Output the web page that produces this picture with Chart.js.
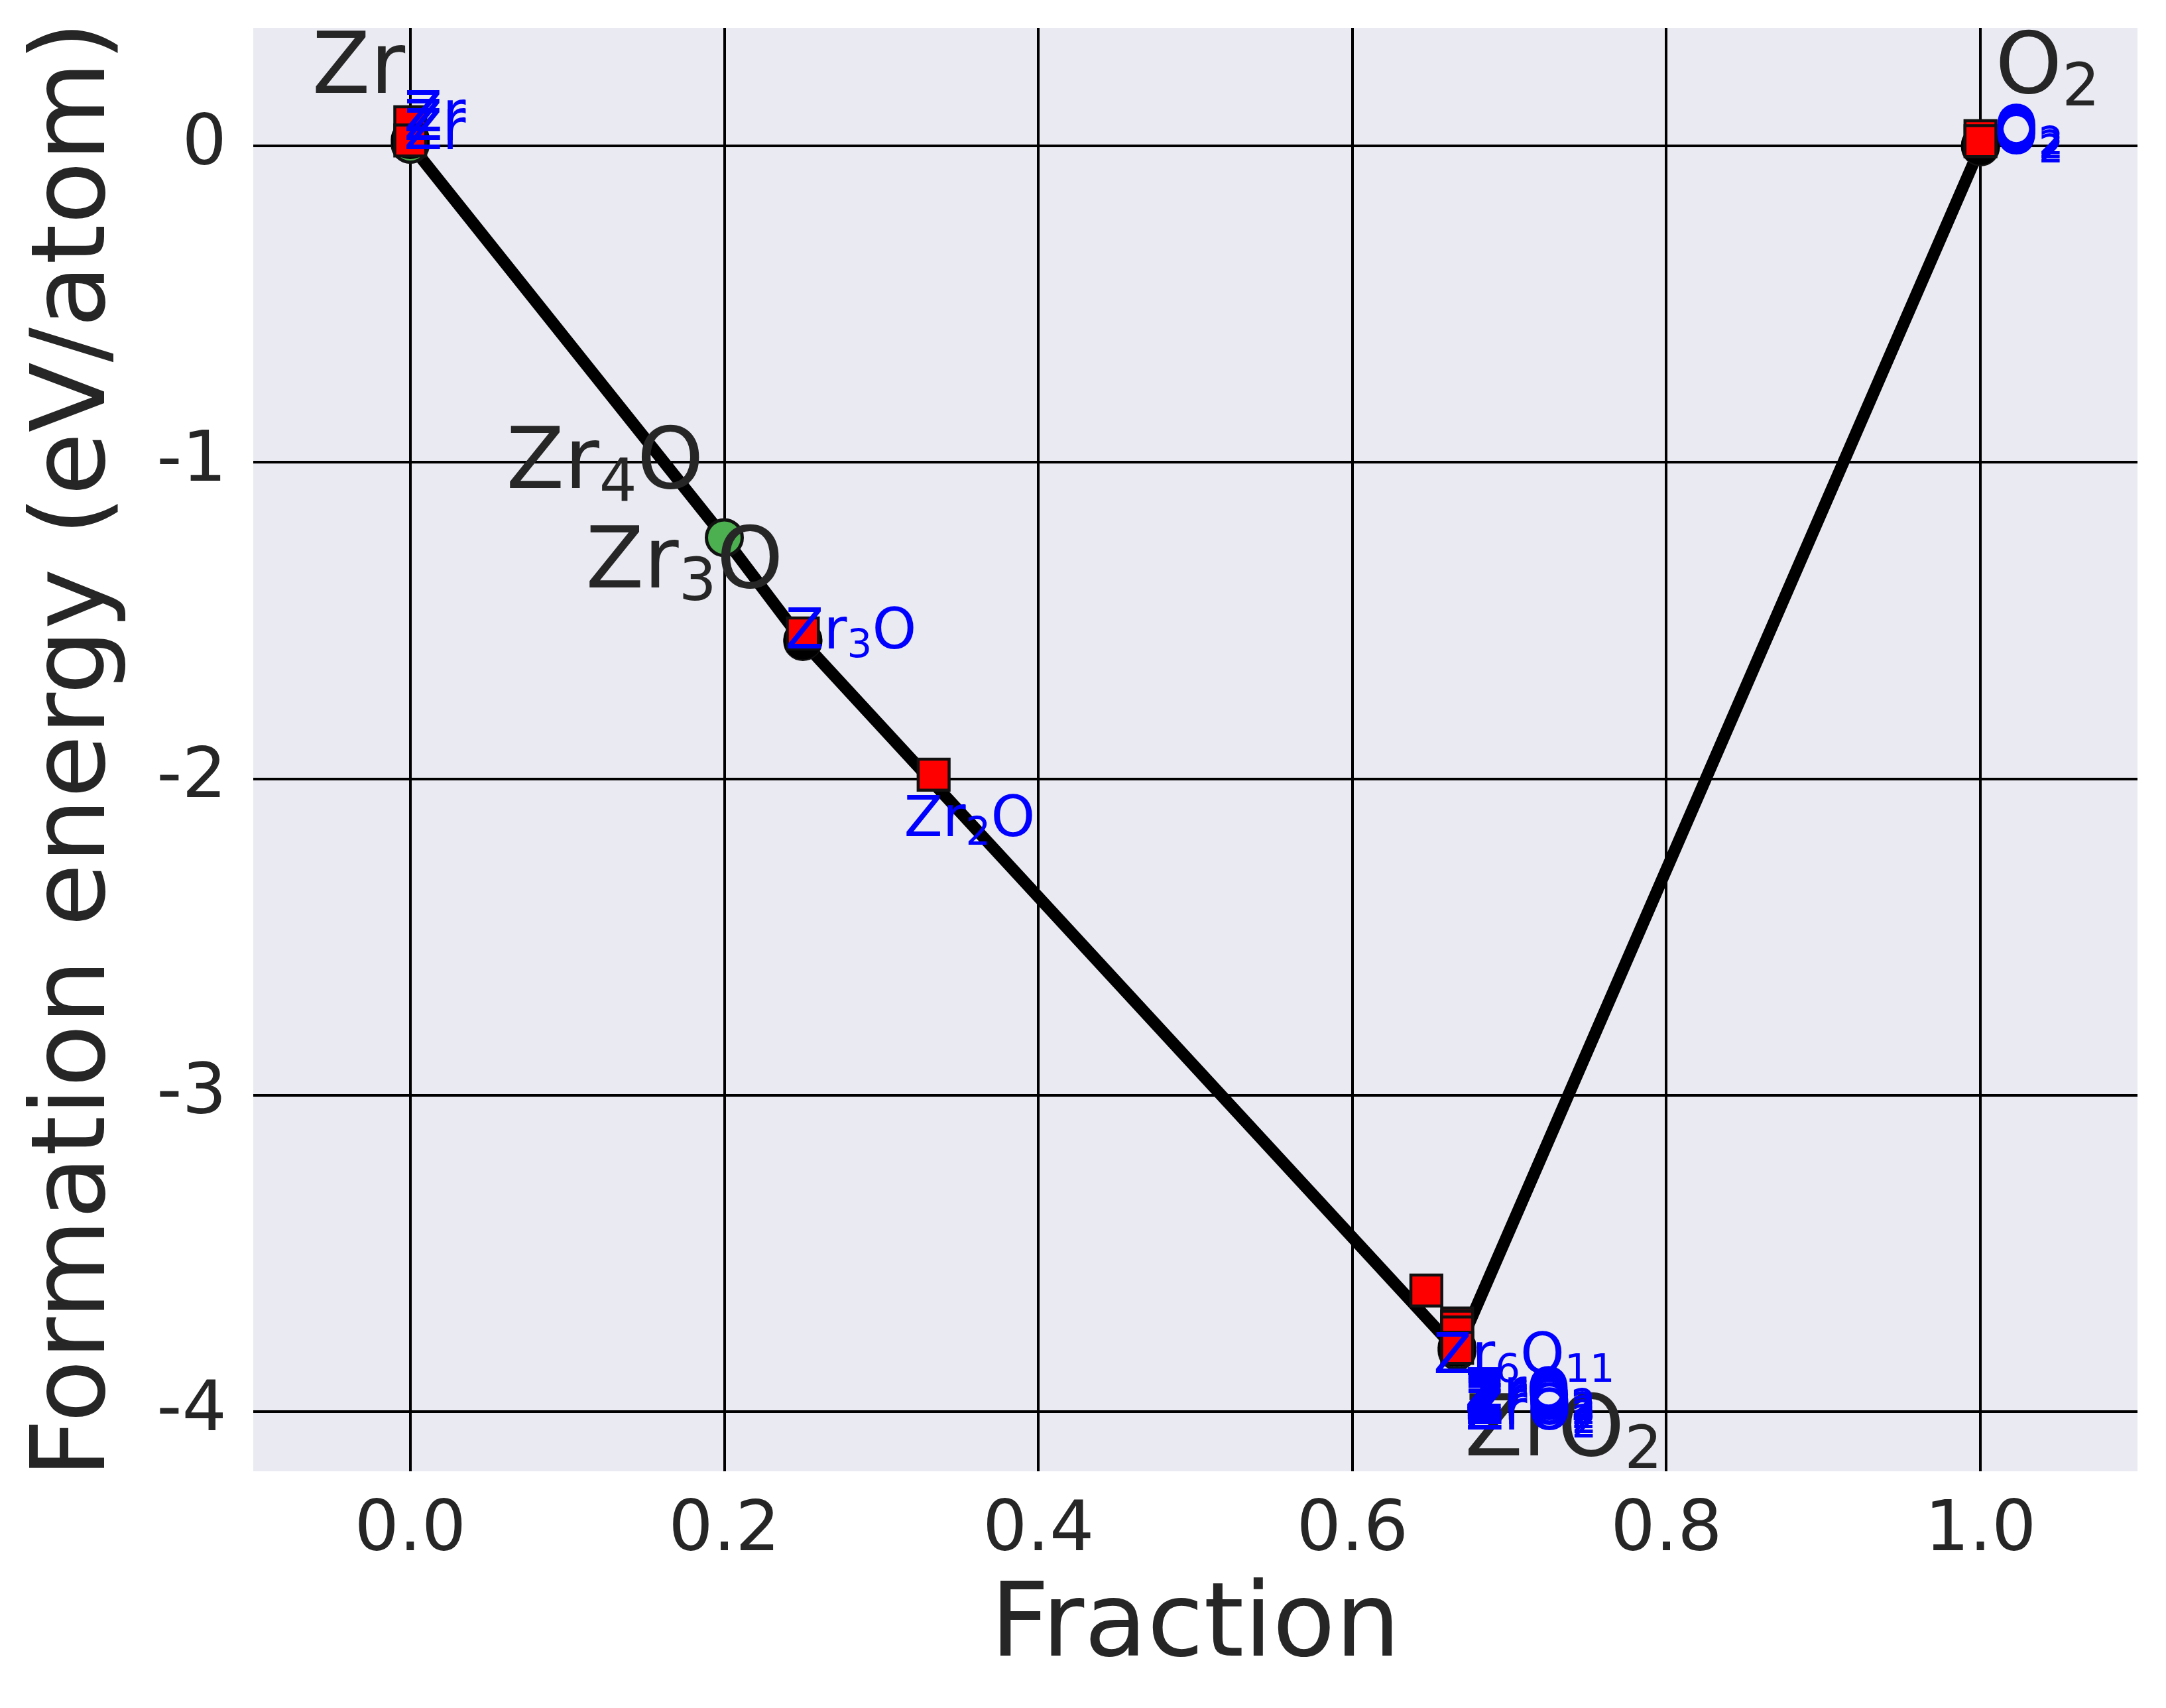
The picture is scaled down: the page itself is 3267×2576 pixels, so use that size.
<!DOCTYPE html>
<html>
<head>
<meta charset="utf-8">
<title>Zr-O formation energy hull</title>
<script src="https://cdn.jsdelivr.net/npm/chart.js@4.4.1/dist/chart.umd.min.js"></script>
<style>
  html, body { margin: 0; padding: 0; background: #fff; }
  canvas { display: block; }
</style>
</head>
<body>
<canvas id="hullChart" width="3267" height="2576"></canvas>
<script>
// DFT hull phases (green circles, joined by the hull line)
const dftFraction = [0, 0.2, 0.25, 0.6667, 1];
const dftEnergy = [0.005, -1.238, -1.566, -3.808, -0.003];

// ML hull phases (black circles sitting on the green ones)
const mlHullFraction = [0, 0.25, 0.6667, 1];
const mlHullEnergy = [0.02, -1.561, -3.797, 0.002];

// ML predicted structures (red squares)
const mlFraction = [0, 0, 0.25, 0.3333, 0.6471, 0.6667, 0.6667, 0.6667, 0.6667, 1, 1];
const mlEnergy = [0.075, 0.017, -1.5405, -1.987, -3.617, -3.721, -3.731, -3.749, -3.798, 0.031, 0.015];

// black labels of the hull phases
const hullNames = ['Zr', 'Zr4O', 'Zr3O', 'ZrO2', 'O2'];
const hullNameX = [-0.0625, 0.0611, 0.1117, 0.6715, 1.0094];
const hullNameY = [0.167, -1.081, -1.395, -4.137, 0.168];

// blue labels of the ML structures
const mlNames = ['Zr', 'Zr', 'Zr', 'Zr3O', 'Zr2O', 'Zr6O11',
                 'ZrO2', 'ZrO2', 'ZrO2', 'ZrO2', 'ZrO2', 'ZrO2', 'O2', 'O2', 'O2'];
const mlNameX = [-0.004, -0.004, -0.004, 0.2388, 0.3144, 0.6516,
                 0.6715, 0.6715, 0.6718, 0.6718, 0.672, 0.672, 1.0087, 1.0087, 1.0087];
const mlNameY = [0.047, 0.019, -0.011, -1.589, -2.181, -3.878,
                 -3.99, -4.0, -4.012, -4.025, -4.04, -4.055, 0.0, -0.012, -0.025];

// axes
const xTicks = [0, 0.2, 0.4, 0.6, 0.8, 1.0];
const xTickLabels = ['0.0', '0.2', '0.4', '0.6', '0.8', '1.0'];
const yTicks = [0, -1, -2, -3, -4];
const yTickLabels = ['0', '-1', '-2', '-3', '-4'];

const FONT = '"DejaVu Sans", sans-serif';
const TEXT_DARK = '#262626';

const toPoints = (xs, ys) => xs.map((x, i) => ({ x: x, y: ys[i] }));

// Draw a chemical formula with digits as subscripts
function drawFormula(ctx, text, x, y, size, color) {
    ctx.fillStyle = color;
    ctx.textAlign = 'left';
    ctx.textBaseline = 'alphabetic';
    let cx = x;
    (text.match(/[A-Za-z]+|\d+/g) || []).forEach(part => {
        const isSub = /^\d+$/.test(part);
        ctx.font = `${isSub ? size * 0.7 : size}px ${FONT}`;
        ctx.fillText(part, cx, isSub ? y + size * 0.15 : y);
        cx += ctx.measureText(part).width;
    });
}

const backdrop = {
    id: 'backdrop',
    beforeDraw(chart) {
        const { ctx, chartArea: a } = chart;
        ctx.save();
        ctx.fillStyle = '#ffffff';
        ctx.fillRect(0, 0, chart.width, chart.height);
        ctx.fillStyle = '#EAEAF2';
        ctx.fillRect(a.left, a.top, a.right - a.left, a.bottom - a.top);
        ctx.restore();
    }
};

const formulaLabels = {
    id: 'formulaLabels',
    afterDatasetsDraw(chart) {
        const { ctx, scales: { x, y } } = chart;
        ctx.save();
        hullNames.forEach((name, i) => {
            drawFormula(ctx, name, x.getPixelForValue(hullNameX[i]), y.getPixelForValue(hullNameY[i]), 128, TEXT_DARK);
        });
        mlNames.forEach((name, i) => {
            drawFormula(ctx, name, x.getPixelForValue(mlNameX[i]), y.getPixelForValue(mlNameY[i]), 85, '#0000FF');
        });
        ctx.restore();
    }
};

new Chart(document.getElementById('hullChart'), {
    type: 'scatter',
    data: {
        datasets: [
            {
                label: 'ML',
                data: toPoints(mlFraction, mlEnergy),
                pointStyle: 'rect',
                pointRadius: 33,
                pointBackgroundColor: '#FF0000',
                pointBorderColor: '#111111',
                pointBorderWidth: 4.5,
                order: 0
            },
            {
                label: 'ML hull',
                data: toPoints(mlHullFraction, mlHullEnergy),
                pointStyle: 'circle',
                pointRadius: 27,
                pointBackgroundColor: '#000000',
                pointBorderColor: '#000000',
                pointBorderWidth: 5,
                order: 1
            },
            {
                label: 'DFT',
                data: toPoints(dftFraction, dftEnergy),
                pointStyle: 'circle',
                pointRadius: 27,
                pointBackgroundColor: '#4CAF50',
                pointBorderColor: '#111111',
                pointBorderWidth: 5,
                order: 2
            },
            {
                type: 'line',
                label: 'Hull',
                data: toPoints(dftFraction, dftEnergy),
                borderColor: '#000000',
                borderWidth: 18,
                borderJoinStyle: 'round',
                pointRadius: 0,
                fill: false,
                tension: 0,
                order: 3
            }
        ]
    },
    options: {
        responsive: false,
        devicePixelRatio: 1,
        animation: false,
        layout: { padding: { top: 42, right: 43, left: 0, bottom: 0 } },
        plugins: { legend: { display: false }, tooltip: { enabled: false } },
        scales: {
            x: {
                type: 'linear',
                min: -0.1,
                max: 1.1,
                afterFit: scale => {
                    scale.height = 357;
                    scale.paddingLeft = 0;
                    scale.paddingRight = 0;
                },
                afterBuildTicks: scale => { scale.ticks = xTicks.map(v => ({ value: v })); },
                grid: { color: '#000000', lineWidth: 4, drawTicks: false },
                border: { display: false },
                ticks: {
                    padding: 28,
                    color: TEXT_DARK,
                    font: { family: FONT, size: 106 },
                    callback: (v) => xTickLabels[xTicks.indexOf(v)] ?? ''
                },
                title: {
                    display: true,
                    text: 'Fraction',
                    color: TEXT_DARK,
                    font: { family: FONT, size: 155 },
                    padding: { top: 0, bottom: 26 }
                }
            },
            y: {
                type: 'linear',
                min: -4.188,
                max: 0.373,
                afterFit: scale => {
                    scale.width = 382;
                    scale.paddingTop = 0;
                    scale.paddingBottom = 0;
                },
                afterBuildTicks: scale => { scale.ticks = yTicks.map(v => ({ value: v })); },
                grid: { color: '#000000', lineWidth: 4, drawTicks: false },
                border: { display: false },
                ticks: {
                    padding: 40,
                    color: TEXT_DARK,
                    font: { family: FONT, size: 106 },
                    callback: (v) => yTickLabels[yTicks.indexOf(v)] ?? ''
                },
                title: {
                    display: true,
                    text: 'Formation energy (eV/atom)',
                    color: TEXT_DARK,
                    font: { family: FONT, size: 155 },
                    padding: { top: 24, bottom: 0 }
                }
            }
        }
    },
    plugins: [backdrop, formulaLabels]
});
</script>
</body>
</html>
